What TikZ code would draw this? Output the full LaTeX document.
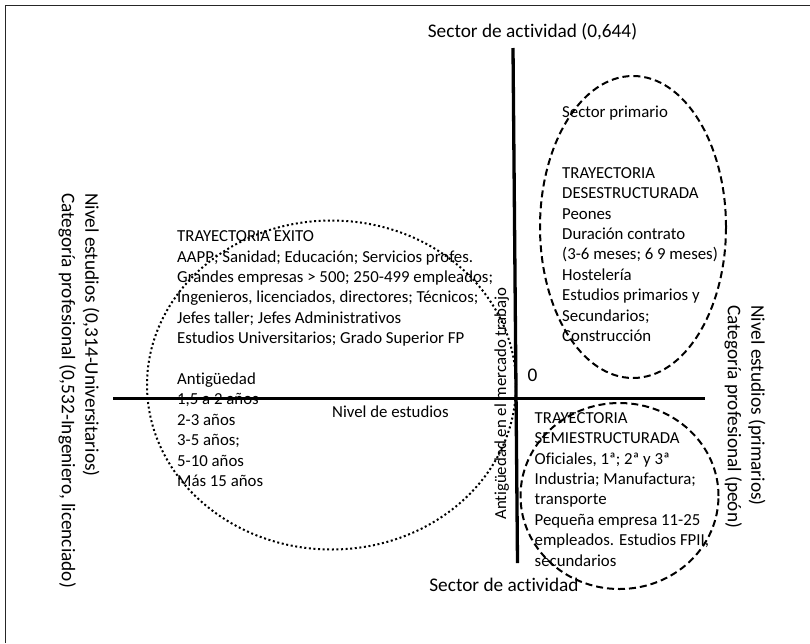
\documentclass[tikz,border=0pt]{standalone}
\usepackage{fontspec}
\setmainfont{Carlito}[Ligatures=NoCommon]
\begin{document}
\begin{tikzpicture}[x=1pt,y=-1pt,
  body/.style={font=\fontsize{16.8}{20.4}\selectfont, align=left, inner sep=0pt, text=black},
  axislabel/.style={font=\fontsize{19.3}{23.5}\selectfont, align=left, inner sep=0pt, text=black},
  axisline/.style={line width=3.3pt},
  dashring/.style={line width=2pt, dash pattern=on 7pt off 4pt},
  dotring/.style={line width=2pt, dash pattern=on 2pt off 2.6pt},
  frameline/.style={line width=1.2pt, draw=black!85}
]
\useasboundingbox (0,0) rectangle (810,643);
\fill[white] (0,0) rectangle (810,643);
\draw[frameline] (5.5,643) -- (5.5,5.5) -- (810,5.5);

% axes
\coordinate (vtop) at (513,48);
\coordinate (vbot) at (517.5,563);
\coordinate (hleft) at (113,398.5);
\coordinate (hright) at (705,398.5);
\draw[axisline] (vtop) -- (vbot);
\draw[axisline] (hleft) -- (hright);

% rings
\draw[dotring] (331.5,385) ellipse [x radius=184.5pt, y radius=164.5pt];
\draw[dashring] (633,227) ellipse [x radius=93pt, y radius=151pt];
\draw[dashring] (619.5,496) ellipse [x radius=99pt, y radius=93pt];

% text blocks (base anchor = baseline of last line)
\node[body, anchor=base west] (exito) at (177,486.5) {TRAYECTORIA EXITO\\
AAPP; Sanidad; Educación; Servicios profes.\\
Grandes empresas > 500; 250-499 empleados;\\
Ingenieros, licenciados, directores; Técnicos;\\
Jefes taller; Jefes Administrativos\\
Estudios Universitarios; Grado Superior FP\\[20.4pt]
Antigüedad\\
1,5 a 2 años\\
2-3 años\\
3-5 años;\\
5-10 años\\
Más 15 años};

\node[body, anchor=base west] (desestr) at (562,341.5) {Sector primario\\[40.8pt]
TRAYECTORIA\\
DESESTRUCTURADA\\
Peones\\
Duración contrato\\
(3-6 meses; 6 9 meses)\\
Hostelería\\
Estudios primarios y\\
Secundarios;\\
Construcción};

\node[body, anchor=base west] (semiestr) at (534.5,566) {TRAYECTORIA\\
SEMIESTRUCTURADA\\
Oficiales, 1ª; 2ª y 3ª\\
Industria; Manufactura;\\
transporte\\
Pequeña empresa 11-25\\
empleados. Estudios FPII,\\
secundarios};

% axis labels
\node[axislabel, anchor=base] (sectortop) at (532.5,37) {Sector de actividad (0,644)};
\node[axislabel, anchor=base] (sectorbot) at (504,591) {Sector de actividad};
\node[axislabel, anchor=base] (cero) at (532.5,381.7) {0};
\node[body, anchor=base west] (nivelest) at (332,417.5) {Nivel de estudios};
\node[body, rotate=90, anchor=base] (antig) at (506,403.5) {Antigüedad en el mercado trabajo};
\node[axislabel, rotate=-90, anchor=west] (leftlab) at (79,193) {Nivel estudios (0,314-Universitarios)\\Categoría profesional (0,532-Ingeniero, licenciado)};
\node[axislabel, rotate=-90, anchor=west] (rightlab) at (745,305) {Nivel estudios (primarios)\\Categoría profesional (peón)};
\end{tikzpicture}
\end{document}
